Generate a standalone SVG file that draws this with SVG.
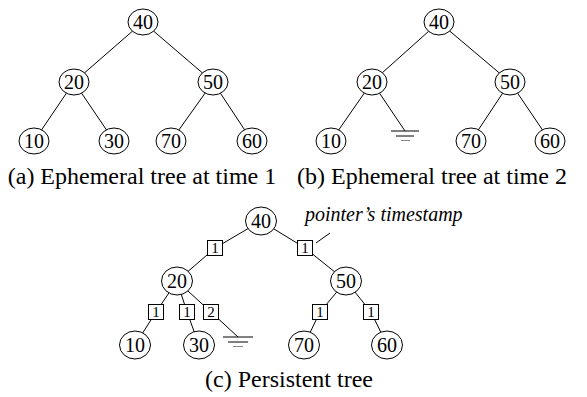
<svg xmlns="http://www.w3.org/2000/svg" width="587" height="397" viewBox="0 0 587 397">
<style>
.n{fill:#fff;stroke:#000;stroke-width:1}
.t{font-family:"Liberation Serif","Times New Roman",serif;font-size:20px;text-anchor:middle;fill:#000}
.bt{font-family:"Liberation Serif","Times New Roman",serif;font-size:15px;text-anchor:middle;fill:#000}
.cap{font-family:"Liberation Serif","Times New Roman",serif;font-size:24px;text-anchor:middle;fill:#000}
.it{font-family:"Liberation Serif","Times New Roman",serif;font-size:20px;font-style:italic;fill:#000}
.e{stroke:#000;stroke-width:1;fill:none}
.b{fill:#fff;stroke:#000;stroke-width:1}
</style>
<g id="connectors" class="e">
<line x1="143" y1="22" x2="74" y2="82"/>
<line x1="143" y1="22" x2="213" y2="82"/>
<line x1="74" y1="82" x2="34" y2="141"/>
<line x1="74" y1="82" x2="114" y2="141"/>
<line x1="213" y1="82" x2="171" y2="141"/>
<line x1="213" y1="82" x2="252" y2="141"/>
<line x1="439" y1="22" x2="372" y2="82"/>
<line x1="439" y1="22" x2="510" y2="82"/>
<line x1="372" y1="82" x2="331" y2="141"/>
<line x1="372" y1="82" x2="405" y2="131"/>
<line x1="510" y1="82" x2="471" y2="141"/>
<line x1="510" y1="82" x2="550" y2="141"/>
<line x1="391" y1="131" x2="419" y2="131"/>
<line x1="396" y1="136" x2="414" y2="136"/>
<line x1="401" y1="140.5" x2="410" y2="140.5" stroke="#888"/>
<polyline points="261,221 215,248 177,281"/>
<polyline points="261,221 305,248 346,281"/>
<polyline points="177,281 156,312 135,345"/>
<polyline points="177,281 187,312 199,345"/>
<polyline points="177,281 211,312 238,337"/>
<polyline points="346,281 320,312 304,345"/>
<polyline points="346,281 371,312 387,345"/>
<line x1="223" y1="337" x2="253" y2="337"/>
<line x1="228" y1="342" x2="248" y2="342"/>
<line x1="233" y1="346.5" x2="243" y2="346.5" stroke="#888"/>
<line x1="316" y1="243" x2="330" y2="233"/>
</g>
<g id="a40"><ellipse class="n" cx="143" cy="22" rx="15" ry="13"/><text class="t" x="143" y="29">40</text></g>
<g id="a20"><ellipse class="n" cx="74" cy="82" rx="15" ry="13"/><text class="t" x="74" y="89">20</text></g>
<g id="a50"><ellipse class="n" cx="213" cy="82" rx="15" ry="13"/><text class="t" x="213" y="89">50</text></g>
<g id="a10"><ellipse class="n" cx="34" cy="141" rx="15" ry="13"/><text class="t" x="34" y="148">10</text></g>
<g id="a30"><ellipse class="n" cx="114" cy="141" rx="15" ry="13"/><text class="t" x="114" y="148">30</text></g>
<g id="a70"><ellipse class="n" cx="171" cy="141" rx="15" ry="13"/><text class="t" x="171" y="148">70</text></g>
<g id="a60"><ellipse class="n" cx="252" cy="141" rx="15" ry="13"/><text class="t" x="252" y="148">60</text></g>
<g id="b40"><ellipse class="n" cx="439" cy="22" rx="15" ry="13"/><text class="t" x="439" y="29">40</text></g>
<g id="b20"><ellipse class="n" cx="372" cy="82" rx="15" ry="13"/><text class="t" x="372" y="89">20</text></g>
<g id="b50"><ellipse class="n" cx="510" cy="82" rx="15" ry="13"/><text class="t" x="510" y="89">50</text></g>
<g id="b10"><ellipse class="n" cx="331" cy="141" rx="15" ry="13"/><text class="t" x="331" y="148">10</text></g>
<g id="b70"><ellipse class="n" cx="471" cy="141" rx="15" ry="13"/><text class="t" x="471" y="148">70</text></g>
<g id="b60"><ellipse class="n" cx="550" cy="141" rx="15" ry="13"/><text class="t" x="550" y="148">60</text></g>
<g id="c40"><ellipse class="n" cx="261" cy="221" rx="15.5" ry="14"/><text class="t" x="261" y="228">40</text></g>
<g id="c20"><ellipse class="n" cx="177" cy="281" rx="15.5" ry="14"/><text class="t" x="177" y="288">20</text></g>
<g id="c50"><ellipse class="n" cx="346" cy="281" rx="15.5" ry="14"/><text class="t" x="346" y="288">50</text></g>
<g id="c10"><ellipse class="n" cx="135" cy="345" rx="15.5" ry="14"/><text class="t" x="135" y="352">10</text></g>
<g id="c30"><ellipse class="n" cx="199" cy="345" rx="15.5" ry="14"/><text class="t" x="199" y="352">30</text></g>
<g id="c70"><ellipse class="n" cx="304" cy="345" rx="15.5" ry="14"/><text class="t" x="304" y="352">70</text></g>
<g id="c60"><ellipse class="n" cx="387" cy="345" rx="15.5" ry="14"/><text class="t" x="387" y="352">60</text></g>
<g id="ts1"><rect class="b" x="207.5" y="240.5" width="15" height="15"/><text class="bt" x="215" y="253">1</text></g>
<g id="ts2"><rect class="b" x="297.5" y="240.5" width="15" height="15"/><text class="bt" x="305" y="253">1</text></g>
<g id="ts3"><rect class="b" x="148.5" y="304.5" width="15" height="15"/><text class="bt" x="156" y="317">1</text></g>
<g id="ts4"><rect class="b" x="179.5" y="304.5" width="15" height="15"/><text class="bt" x="187" y="317">1</text></g>
<g id="ts5"><rect class="b" x="203.5" y="304.5" width="15" height="15"/><text class="bt" x="211" y="317">2</text></g>
<g id="ts6"><rect class="b" x="312.5" y="304.5" width="15" height="15"/><text class="bt" x="320" y="317">1</text></g>
<g id="ts7"><rect class="b" x="363.5" y="304.5" width="15" height="15"/><text class="bt" x="371" y="317">1</text></g>
<text class="it" x="305" y="221">pointer’s timestamp</text>
<text class="cap" x="142" y="184">(a) Ephemeral tree at time 1</text>
<text class="cap" x="432" y="184">(b) Ephemeral tree at time 2</text>
<text class="cap" x="289" y="387">(c) Persistent tree</text>
</svg>
